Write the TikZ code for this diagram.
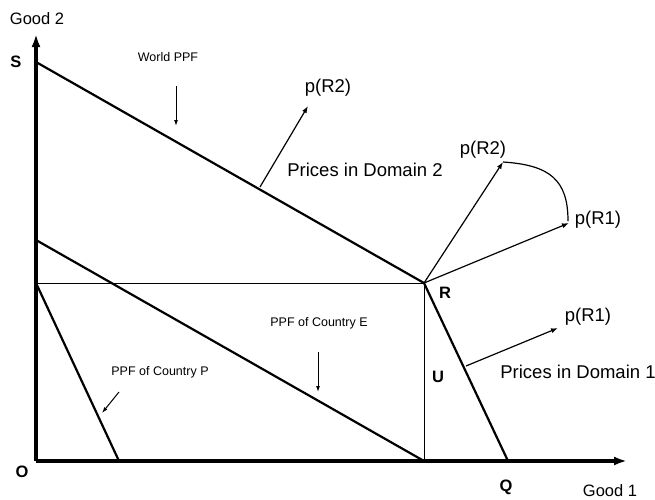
\documentclass[tikz,border=0pt]{standalone}
\usepackage{fontspec}
\setmainfont{Liberation Sans}
\usetikzlibrary{arrows.meta}
\begin{document}
\begin{tikzpicture}[x=1pt,y=-1pt,
  axis/.style={line width=3.5pt,-{Latex[length=13pt,width=9pt]}},
  ppf/.style={line width=2.2pt},
  thinline/.style={line width=0.9pt},
  parrow/.style={line width=1.2pt,-{Latex[length=7pt,width=5pt]}},
  lblarrow/.style={line width=1pt,-{Latex[length=6pt,width=4pt]}},
  big/.style={font=\fontsize{18.5}{20}\selectfont,inner sep=0pt},
  small/.style={font=\fontsize{12.5}{14}\selectfont,inner sep=0pt},
  pt/.style={font=\fontsize{16.5}{18}\selectfont\bfseries,inner sep=0pt},
  ax/.style={font=\fontsize{16.5}{18}\selectfont,inner sep=0pt}]
\useasboundingbox (0,0) rectangle (655,499);
% points
\coordinate (O) at (36,461);
\coordinate (Ytop) at (36,34);
\coordinate (Xend) at (627,461);
\coordinate (Spt) at (36,62);
\coordinate (Rpt) at (424,283);
\coordinate (Qpt) at (508,461);
\coordinate (Etop) at (36,240);
\coordinate (Ebot) at (424,461);
\coordinate (Ptop) at (36,283);
\coordinate (Pbot) at (119,461);
% axes
\draw[axis] (O) -- (Ytop);
\draw[axis] (O) -- (Xend);
% thin lines
\draw[thinline] (Ptop) -- (Rpt) -- (Ebot);
% PPFs
\draw[ppf] (Spt) -- (Rpt) -- (Qpt);
\draw[ppf] (Etop) -- (Ebot);
\draw[ppf] (Ptop) -- (Pbot);
% labels
\node[ax] (g2) at (37,19) {Good 2};
\node[ax] (g1) at (610,491) {Good 1};
\node[pt] (S) at (16,62) {S};
\node[pt] (R) at (445,293) {R};
\node[pt] (U) at (438,377) {U};
\node[pt] (Ol) at (22,472) {O};
\node[pt] (Q) at (506,487) {Q};
\node[small] (wppf) at (168,57) {World PPF};
\node[small] (eppf) at (319,323) {PPF of Country E};
\node[small] (pppf) at (160,372) {PPF of Country P};
\node[big] (pd2) at (365,170) {Prices in Domain 2};
\node[big] (pd1) at (578,372) {Prices in Domain 1};
\node[big] (pr2a) at (328,88) {p(R2)};
\node[big] (pr2b) at (483,150) {p(R2)};
\node[big] (pr1a) at (598,220) {p(R1)};
\node[big] (pr1b) at (588,317) {p(R1)};
% label arrows
\coordinate (w1) at (176,86); \coordinate (w2) at (176,126);
\draw[lblarrow] (w1) -- (w2);
\coordinate (e1) at (318,352); \coordinate (e2) at (318,392);
\draw[lblarrow] (e1) -- (e2);
\coordinate (p1) at (119,392); \coordinate (p2) at (102,413);
\draw[lblarrow] (p1) -- (p2);
% price arrows
\coordinate (d2s) at (260,187); \coordinate (d2e) at (308,106);
\draw[parrow] (d2s) -- (d2e);
\coordinate (d1s) at (466,366); \coordinate (d1e) at (558,328);
\draw[parrow] (d1s) -- (d1e);
\coordinate (r2e) at (503,162); \coordinate (r1e) at (569,223);
\draw[parrow] (Rpt) -- (r2e);
\draw[parrow] (Rpt) -- (r1e);
\draw[line width=1.2pt] (r2e) .. controls (550,165) and (568,180) .. (568,221);
\end{tikzpicture}
\end{document}
